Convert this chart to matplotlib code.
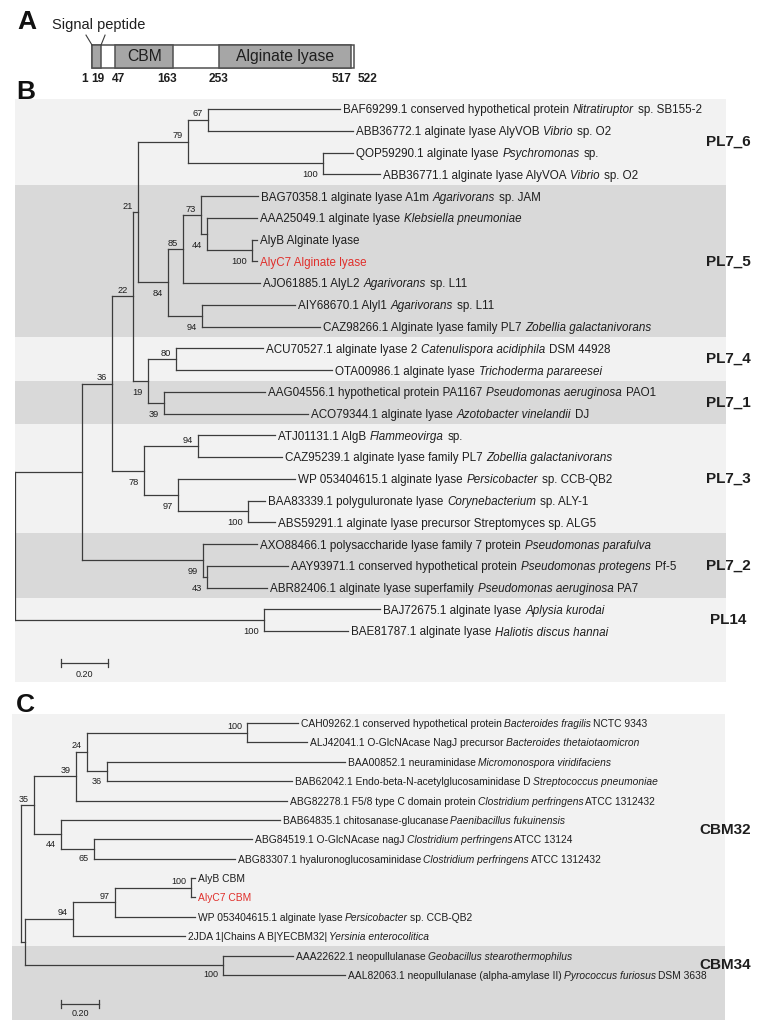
import re
import matplotlib
matplotlib.use("Agg")
import matplotlib.pyplot as plt
from matplotlib.patches import Rectangle

plt.rcParams['font.family'] = 'Liberation Sans'

# ---------------- data ----------------
# panel A: domain map of AlyC7
protein_len = 522
domain_names = ["Signal peptide", "CBM", "Alginate lyase"]
domain_start = [1, 47, 253]
domain_end = [19, 163, 517]
boundary_ticks = [1, 19, 47, 163, 253, 517, 522]

# panel B: PL7/PL14 alginate lyase tree
# internal nodes: name -> (parent, depth from root, bootstrap)
nodes_b = {
    "r": (None, 0.000, ""),
    "a": ("r", 0.285, ""),
    "b": ("a", 0.413, "36"),
    "c": ("b", 0.502, "22"),
    "d": ("c", 0.523, "21"),
    "e": ("d", 0.736, "79"),
    "f": ("e", 0.821, "67"),
    "g": ("e", 1.311, "100"),
    "h": ("d", 0.651, "84"),
    "i": ("h", 0.715, "85"),
    "j": ("i", 0.791, "73"),
    "k": ("j", 0.817, "44"),
    "l": ("k", 1.009, "100"),
    "m": ("h", 0.796, "94"),
    "n": ("c", 0.566, "19"),
    "o": ("n", 0.685, "80"),
    "p": ("n", 0.634, "39"),
    "q": ("b", 0.549, "78"),
    "s": ("q", 0.779, "94"),
    "t": ("q", 0.694, "97"),
    "u": ("t", 0.991, "100"),
    "v": ("a", 0.800, "99"),
    "w": ("v", 0.817, "43"),
    "x": ("r", 1.060, "100"),
}
leaf_parent_b = ["f", "f", "g", "g", "j", "k", "l", "l", "i", "m", "m", "o", "o",
                 "p", "p", "s", "s", "t", "u", "u", "v", "w", "w", "x", "x"]
leaf_depth_b = [1.383, 1.438, 1.438, 1.553, 1.034, 1.030, 1.030, 1.030, 1.043,
                1.191, 1.298, 1.055, 1.349, 1.064, 1.247, 1.106, 1.136, 1.191,
                1.064, 1.106, 1.030, 1.162, 1.072, 1.553, 1.417]
leaf_labels_b = [
    "BAF69299.1 conserved hypothetical protein *Nitratiruptor* sp. SB155-2",
    "ABB36772.1 alginate lyase AlyVOB *Vibrio* sp. O2",
    "QOP59290.1 alginate lyase *Psychromonas* sp.",
    "ABB36771.1 alginate lyase AlyVOA *Vibrio* sp. O2",
    "BAG70358.1 alginate lyase A1m *Agarivorans* sp. JAM",
    "AAA25049.1 alginate lyase *Klebsiella pneumoniae*",
    "AlyB Alginate lyase",
    "AlyC7 Alginate lyase",
    "AJO61885.1 AlyL2 *Agarivorans* sp. L11",
    "AIY68670.1 Alyl1 *Agarivorans* sp. L11",
    "CAZ98266.1 Alginate lyase family PL7 *Zobellia galactanivorans*",
    "ACU70527.1 alginate lyase 2 *Catenulispora acidiphila* DSM 44928",
    "OTA00986.1 alginate lyase *Trichoderma parareesei*",
    "AAG04556.1 hypothetical protein PA1167 *Pseudomonas aeruginosa* PAO1",
    "ACO79344.1 alginate lyase *Azotobacter vinelandii* DJ",
    "ATJ01131.1 AlgB *Flammeovirga* sp.",
    "CAZ95239.1 alginate lyase family PL7 *Zobellia galactanivorans*",
    "WP 053404615.1 alginate lyase *Persicobacter* sp. CCB-QB2",
    "BAA83339.1 polyguluronate lyase *Corynebacterium* sp. ALY-1",
    "ABS59291.1 alginate lyase precursor Streptomyces sp. ALG5",
    "AXO88466.1 polysaccharide lyase family 7 protein *Pseudomonas parafulva*",
    "AAY93971.1 conserved hypothetical protein *Pseudomonas protegens* Pf-5",
    "ABR82406.1 alginate lyase superfamily *Pseudomonas aeruginosa* PA7",
    "BAJ72675.1 alginate lyase *Aplysia kurodai*",
    "BAE81787.1 alginate lyase *Haliotis discus hannai*",
]
clades_b = ["PL7_6", "PL7_5", "PL7_4", "PL7_1", "PL7_3", "PL7_2", "PL14"]
clade_first_b = [0, 4, 11, 13, 15, 20, 23]
clade_last_b = [3, 10, 12, 14, 19, 22, 24]

# panel C: CBM tree
nodes_c = {
    "r": (None, 0.000, ""),
    "z": ("r", 0.021, ""),
    "n35": ("r", 0.068, "35"),
    "n39": ("n35", 0.289, "39"),
    "n24": ("n39", 0.347, "24"),
    "n100a": ("n24", 1.189, "100"),
    "n36": ("n24", 0.453, "36"),
    "n44": ("n35", 0.211, "44"),
    "n65": ("n44", 0.384, "65"),
    "n94": ("z", 0.274, "94"),
    "n97": ("n94", 0.495, "97"),
    "n100b": ("n97", 0.895, "100"),
    "n100c": ("z", 1.063, "100"),
}
leaf_parent_c = ["n100a", "n100a", "n36", "n36", "n39", "n44", "n65", "n65",
                 "n100b", "n100b", "n97", "n94", "n100c", "n100c"]
leaf_depth_c = [1.458, 1.505, 1.705, 1.426, 1.400, 1.363, 1.216, 1.126,
                0.916, 0.916, 0.916, 0.863, 1.432, 1.705]
leaf_labels_c = [
    "CAH09262.1 conserved hypothetical protein *Bacteroides fragilis* NCTC 9343",
    "ALJ42041.1 O-GlcNAcase NagJ precursor *Bacteroides thetaiotaomicron*",
    "BAA00852.1 neuraminidase *Micromonospora viridifaciens*",
    "BAB62042.1 Endo-beta-N-acetylglucosaminidase D *Streptococcus pneumoniae*",
    "ABG82278.1 F5/8 type C domain protein *Clostridium perfringens* ATCC 1312432",
    "BAB64835.1 chitosanase-glucanase *Paenibacillus fukuinensis*",
    "ABG84519.1 O-GlcNAcase nagJ *Clostridium perfringens* ATCC 13124",
    "ABG83307.1 hyaluronoglucosaminidase *Clostridium perfringens* ATCC 1312432",
    "AlyB CBM",
    "AlyC7 CBM",
    "WP 053404615.1 alginate lyase *Persicobacter* sp. CCB-QB2",
    "2JDA 1|Chains A B|YECBM32| *Yersinia enterocolitica*",
    "AAA22622.1 neopullulanase *Geobacillus stearothermophilus*",
    "AAL82063.1 neopullulanase (alpha-amylase II) *Pyrococcus furiosus* DSM 3638",
]
clades_c = ["CBM32", "CBM34"]
clade_first_c = [0, 12]
clade_last_c = [11, 13]

scale_len = 0.20
highlight = "AlyC7"

# ---------------- style ----------------
W, H = 763, 1029
LINE = "#3c3c3c"
TXT = "#1e1e1e"
RED = "#e0302c"
LIGHT = "#f2f2f2"
DARK = "#d9d9d9"
LW = 0.9

fig = plt.figure(figsize=(W / 100, H / 100), dpi=100)


def px_axes(x0, y0, x1, y1):
    return fig.add_axes([x0 / W, 1 - y1 / H, (x1 - x0) / W, (y1 - y0) / H])


def rich_label(ax, x, y, s, fs, color, space):
    # *...* marks italic (species names); pieces are chained one after another
    parts = [p for p in re.split(r"(\*[^*]+\*)", s) if p]
    prev = None
    gap = 0
    for p in parts:
        italic = p.startswith("*")
        body = p.strip("*")
        if body.startswith(" "):
            gap = 1
        txt = body.strip()
        kw = dict(fontsize=fs, color=color, style="italic" if italic else "normal")
        if prev is None:
            prev = ax.annotate(txt, (x, y), xytext=(2.2, 0), textcoords="offset points",
                               ha="left", va="center_baseline", **kw)
        else:
            prev = ax.annotate(txt, (1, 0), xycoords=prev,
                               xytext=(space * fs * gap, 0), textcoords="offset points",
                               ha="left", va="bottom", **kw)
        gap = 1 if body.endswith(" ") else 0


def draw_tree(ax, nodes, leaf_parent, leaf_depth, labels, leaf_fs, boot_fs,
              boot_up, boot_dn, space):
    kids = {k: [] for k in nodes}
    leaves = {k: [] for k in nodes}
    for k, (par, d, b) in nodes.items():
        if par is not None:
            kids[par].append(k)
    for i, p in enumerate(leaf_parent):
        leaves[p].append(i)
    ypos = {}

    def place(k):
        ys = [place(c) for c in kids[k]] + leaves[k]
        ypos[k] = (min(ys) + max(ys)) / 2
        return ypos[k]

    root = [k for k, v in nodes.items() if v[0] is None][0]
    place(root)
    kw = dict(color=LINE, lw=LW, solid_capstyle="projecting")
    for k, (par, d, b) in nodes.items():
        ys = [ypos[c] for c in kids[k]] + leaves[k]
        ax.plot([d, d], [min(ys), max(ys)], **kw)
        for c in kids[k]:
            ax.plot([d, nodes[c][1]], [ypos[c], ypos[c]], **kw)
        for i in leaves[k]:
            ax.plot([d, leaf_depth[i]], [i, i], **kw)
        if b:
            sib = [ypos[c] for c in kids[par]] + leaves[par]
            upper = ypos[k] == min(sib)
            ax.annotate(b, (d, ypos[k]), xytext=(-3.6, boot_up if upper else boot_dn),
                        textcoords="offset points", ha="right", va="center",
                        fontsize=boot_fs, color=TXT)
    for i, lab in enumerate(labels):
        rich_label(ax, leaf_depth[i], i, lab, leaf_fs,
                   RED if lab.startswith(highlight) else TXT, space)


def draw_bands(ax, clades, first, last, ylim, xlab, fs):
    for n, (name, a, b) in enumerate(zip(clades, first, last)):
        lo = a - 0.5 if n > 0 else ylim[1]
        hi = b + 0.5 if n < len(clades) - 1 else ylim[0]
        ax.axhspan(lo, hi, color=DARK if n % 2 else LIGHT, lw=0, zorder=0)
        ax.text(xlab, (a + b) / 2, name, ha="center", va="center", fontsize=fs,
                fontweight="bold", color=TXT, clip_on=False)


def scale_bar(ax, x0, y, tick, lab_dy, fs):
    kw = dict(color=LINE, lw=LW)
    ax.plot([x0, x0 + scale_len], [y, y], **kw)
    ax.plot([x0, x0], [y - tick, y + tick], **kw)
    ax.plot([x0 + scale_len] * 2, [y - tick, y + tick], **kw)
    ax.text(x0 + scale_len / 2, y + lab_dy, f"{scale_len:.2f}", ha="center",
            va="center", fontsize=fs, color=TXT)


# ---------------- panel A ----------------
axa = px_axes(0, 0, W, 100)
aa_per_px = (protein_len - 1) / 262
axa.set_xlim(1 - 92 * aa_per_px, 1 + (W - 92) * aa_per_px)
axa.set_ylim((68 - 100) / 23, 68 / 23)
axa.set_axis_off()
axa.add_patch(Rectangle((1, 0), protein_len - 1, 1, fc="white", ec="#505050", lw=1.1))
for name, s, e in zip(domain_names, domain_start, domain_end):
    axa.add_patch(Rectangle((s, 0), e - s, 1, fc="#a6a6a6", ec="#505050", lw=1.1))
    if name == "Signal peptide":
        axa.text((s + e) / 2 + 4, 1.87, name, ha="center", va="center",
                 fontsize=10.5, color=TXT)
        axa.plot([s, s - 6 * aa_per_px], [1, 1.43], color=LINE, lw=0.8)
        axa.plot([e, e + 4 * aa_per_px], [1, 1.43], color=LINE, lw=0.8)
    else:
        axa.text((s + e) / 2, 0.5, name, ha="center", va="center",
                 fontsize=11.3, color=TXT)
tick_dx = [-7, -3, 3, -6, 0, -10, 14]
for t, dx in zip(boundary_ticks, tick_dx):
    axa.text(t + dx * aa_per_px, -0.5, str(t), ha="center", va="center",
             fontsize=8.6, fontweight="bold", color=TXT)

fig.text(27 / W, 1 - 22 / H, "A", ha="center", va="center", fontsize=19,
         fontweight="bold", color="#111111")
fig.text(26 / W, 1 - 92 / H, "B", ha="center", va="center", fontsize=19,
         fontweight="bold", color="#111111")
fig.text(25 / W, 1 - 705 / H, "C", ha="center", va="center", fontsize=19,
         fontweight="bold", color="#111111")

# ---------------- panel B ----------------
axb = px_axes(15, 99, 726, 682)
ylim_b = ((682 - 109) / 21.75, (99 - 109) / 21.75)
axb.set_xlim(0, (726 - 15) / 235)
axb.set_ylim(*ylim_b)
axb.set_axis_off()
draw_bands(axb, clades_b, clade_first_b, clade_last_b, ylim_b, (728 - 15) / 235, 11)
draw_tree(axb, nodes_b, leaf_parent_b, leaf_depth_b, leaf_labels_b, 8.4, 6.7, 4.3, -8.3,
          0.33)
scale_bar(axb, (61 - 15) / 235, (663 - 109) / 21.75, 0.18, 0.52, 6.5)

# ---------------- panel C ----------------
axc = px_axes(12, 714, 725, 1020)
ylim_c = ((1020 - 723) / 19.38, (714 - 723) / 19.38)
axc.set_xlim((12 - 21) / 190, (725 - 21) / 190)
axc.set_ylim(*ylim_c)
axc.set_axis_off()
draw_bands(axc, clades_c, clade_first_c, clade_last_c, ylim_c, (725 - 21) / 190, 11)
draw_tree(axc, nodes_c, leaf_parent_c, leaf_depth_c, leaf_labels_c, 7.4, 6.5, 4.5, -7,
          0.2)
scale_bar(axc, (61 - 21) / 190, (1004 - 723) / 19.38, 0.2, 0.48, 6.5)

fig.savefig("out.png", dpi=100)
